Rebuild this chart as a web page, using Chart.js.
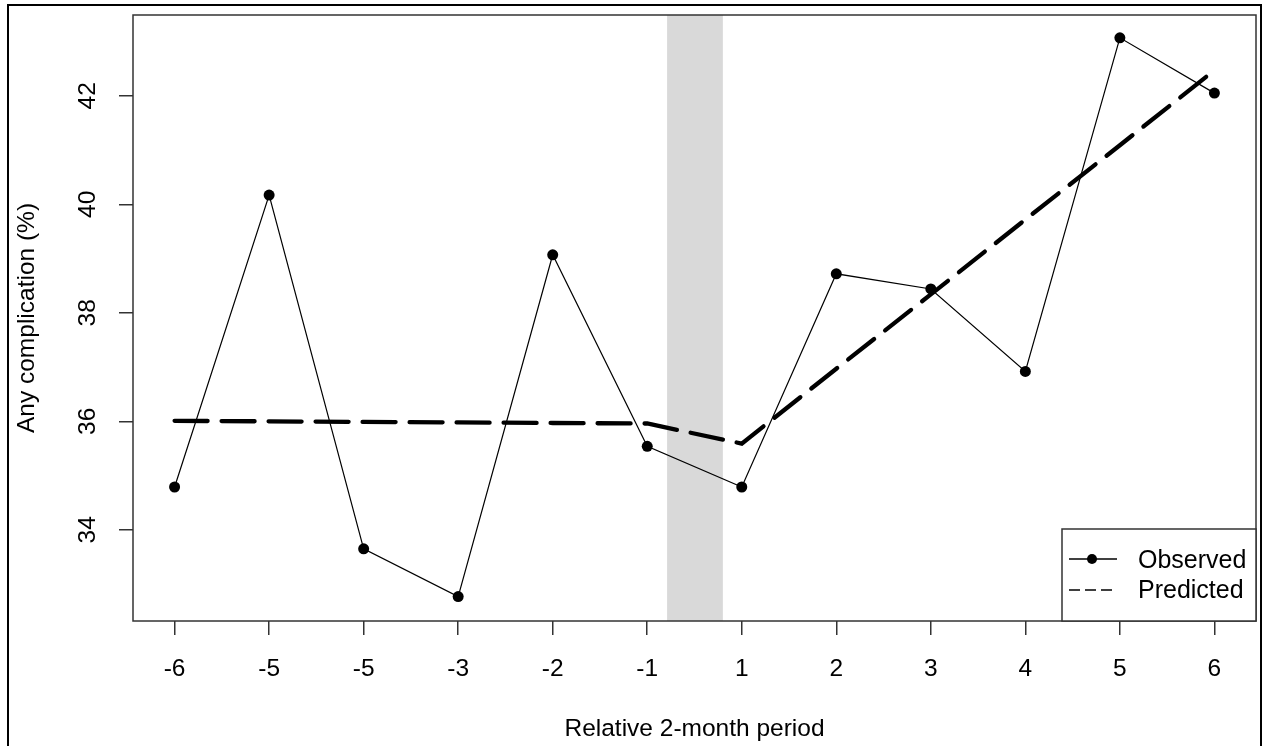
<!DOCTYPE html>
<html>
<head>
<meta charset="utf-8">
<title>Any complication by relative 2-month period</title>
<script src="https://cdn.jsdelivr.net/npm/chart.js@4.4.1/dist/chart.umd.min.js"></script>
<style>
  html, body { margin: 0; padding: 0; background: #fff; }
  #wrap { width: 1267px; height: 746px; }
</style>
</head>
<body>
<div id="wrap"><canvas id="chart" width="1267" height="746"></canvas></div>
<script>
'use strict';

// 데이터
const periodLabels = ['-6', '-5', '-5', '-3', '-2', '-1', '1', '2', '3', '4', '5', '6'];
const observed     = [34.79, 40.17, 33.65, 32.77, 39.07, 35.54, 34.79, 38.72, 38.44, 36.92, 43.07, 42.05];
const predicted    = [36.01, 36.00, 35.99, 35.98, 35.97, 35.96, 35.59, 36.97, 38.34, 39.72, 41.09, 42.47];
const yTickValues  = [34, 36, 38, 40, 42];
const gapBand      = [5.21, 5.8];   // 회색 구간 (x 인덱스 기준)

const FONT = '"Liberation Sans", Arial, sans-serif';
const INK  = '#333333';

// 회색 음영 구간
const bandPlugin = {
  id: 'gapBand',
  beforeDatasetsDraw(chart) {
    const { ctx, chartArea: { top, bottom }, scales: { x } } = chart;
    const x0 = x.getPixelForValue(gapBand[0]);
    const x1 = x.getPixelForValue(gapBand[1]);
    ctx.save();
    ctx.fillStyle = '#d9d9d9';
    ctx.fillRect(x0, top, x1 - x0, bottom - top);
    ctx.restore();
  },
};

// 플롯 박스, 바깥 테두리, 범례
const boxPlugin = {
  id: 'boxAndLegend',
  afterDraw(chart) {
    const { ctx, chartArea: { left, top, right, bottom } } = chart;
    ctx.save();

    ctx.strokeStyle = INK;
    ctx.lineWidth = 1.5;
    ctx.strokeRect(left, top, right - left, bottom - top);

    // 바깥 테두리 (아래쪽은 잘림)
    ctx.strokeStyle = '#000';
    ctx.lineWidth = 2;
    ctx.beginPath();
    ctx.moveTo(8, 760);
    ctx.lineTo(8, 5);
    ctx.lineTo(1261, 5);
    ctx.lineTo(1261, 760);
    ctx.stroke();

    // 범례
    const lx = right - 194, ly = bottom - 92;
    ctx.fillStyle = '#fff';
    ctx.fillRect(lx, ly, right - lx, bottom - ly);
    ctx.strokeStyle = INK;
    ctx.lineWidth = 1.5;
    ctx.strokeRect(lx, ly, right - lx, bottom - ly);

    const row1 = ly + 30, row2 = ly + 61;
    ctx.strokeStyle = '#000';
    ctx.lineWidth = 1.3;
    ctx.beginPath();
    ctx.moveTo(lx + 7, row1);
    ctx.lineTo(lx + 55, row1);
    ctx.stroke();
    ctx.beginPath();
    ctx.arc(lx + 30, row1, 5, 0, Math.PI * 2);
    ctx.fillStyle = '#000';
    ctx.fill();

    ctx.setLineDash([11, 5]);
    ctx.lineWidth = 1.5;
    ctx.beginPath();
    ctx.moveTo(lx + 7, row2);
    ctx.lineTo(lx + 55, row2);
    ctx.stroke();
    ctx.setLineDash([]);

    ctx.font = '25px ' + FONT;
    ctx.fillStyle = '#000';
    ctx.textAlign = 'left';
    ctx.textBaseline = 'middle';
    ctx.fillText('Observed', lx + 76, row1 + 2);
    ctx.fillText('Predicted', lx + 76, row2 + 1);

    ctx.restore();
  },
};

const toPoints = arr => arr.map((v, i) => ({ x: i, y: v }));

new Chart(document.getElementById('chart'), {
  type: 'line',
  plugins: [bandPlugin, boxPlugin],
  data: {
    datasets: [
      {
        label: 'Observed',
        data: toPoints(observed),
        borderColor: '#000',
        borderWidth: 1.2,
        pointRadius: 5.5,
        pointBackgroundColor: '#000',
        pointBorderWidth: 0,
        tension: 0,
      },
      {
        label: 'Predicted',
        data: toPoints(predicted),
        borderColor: '#000',
        borderWidth: 4.3,
        borderDash: [33, 14],
        borderCapStyle: 'round',
        pointRadius: 0,
        tension: 0,
      },
    ],
  },
  options: {
    responsive: false,
    animation: false,
    layout: { padding: { left: 0, top: 15, right: 11, bottom: 0 } },
    plugins: {
      legend: { display: false },
      tooltip: { enabled: false },
    },
    scales: {
      x: {
        type: 'linear',
        min: -0.44,
        max: 11.44,
        afterBuildTicks(scale) {
          scale.ticks = periodLabels.map((_, i) => ({ value: i }));
        },
        afterFit(scale) {
          scale.height = 125;
          scale.paddingLeft = 0;
          scale.paddingRight = 0;
        },
        ticks: {
          color: '#000',
          font: { family: FONT, size: 24.5 },
          padding: 20,
          maxRotation: 0,
          autoSkip: false,
          callback: value => periodLabels[value],
        },
        grid: {
          display: true,
          drawOnChartArea: false,
          drawTicks: true,
          tickLength: 14,
          color: INK,
          lineWidth: 1.5,
        },
        border: { display: false },
        title: {
          display: true,
          text: 'Relative 2-month period',
          color: '#000',
          font: { family: FONT, size: 24.5 },
          padding: { top: 0, bottom: 2 },
        },
      },
      y: {
        min: 32.32,
        max: 43.49,
        afterBuildTicks(scale) {
          scale.ticks = yTickValues.map(v => ({ value: v }));
        },
        afterFit(scale) {
          scale.width = 133;
          scale.paddingTop = 0;
          scale.paddingBottom = 0;
        },
        ticks: {
          color: '#000',
          font: { family: FONT, size: 24.5 },
          padding: 17,
          minRotation: 90,
          maxRotation: 90,
          crossAlign: 'center',
        },
        grid: {
          display: true,
          drawOnChartArea: false,
          drawTicks: true,
          tickLength: 14,
          color: INK,
          lineWidth: 1.5,
        },
        border: { display: false },
        title: {
          display: true,
          text: 'Any complication (%)',
          color: '#000',
          font: { family: FONT, size: 24.5 },
          padding: { top: 13, bottom: 0 },
        },
      },
    },
  },
});
</script>
</body>
</html>
